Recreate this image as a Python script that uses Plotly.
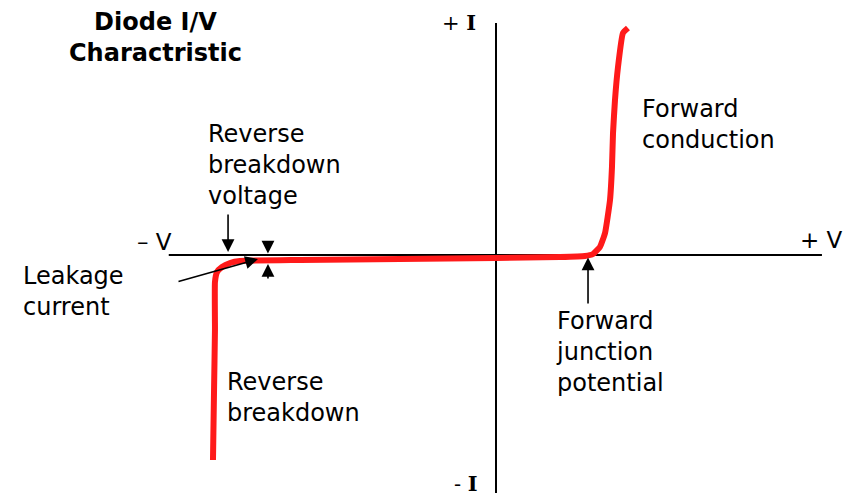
import plotly.graph_objects as go

# ---- data (V in volts, I in mA, schematic) ----
fwd_v = [0.0, 0.489, 0.680, 0.741, 0.794, 0.833, 0.871, 0.886, 0.894, 0.909, 0.932, 0.970, 1.008]
fwd_i = [-0.12, -0.08, -0.04, 0.04, 0.32, 0.88, 2.2, 3.52, 4.88, 6.2, 7.52, 8.88, 9.08]

rev_v = [0.0, -0.733, -1.497, -1.956, -2.032, -2.093, -2.131, -2.147, -2.147, -2.154, -2.162]
rev_i = [-0.12, -0.16, -0.20, -0.24, -0.32, -0.48, -0.68, -1.08, -3.0, -5.4, -8.2]

v_axis = [-2.5, 2.49]
i_axis = [-9.52, 9.28]

# arrows: (tip_v, tip_i, tail_v, tail_i)
arrows = [
    (-2.047, 0.12, -2.047, 1.68),    # reverse breakdown voltage
    (-1.818, -0.16, -2.437, -1.08),  # leakage current
    (-1.742, 0.06, -1.742, 0.56),    # small down arrow
    (-1.742, -0.36, -1.742, -1.0),   # small up arrow
    (0.703, -0.10, 0.703, -2.0),     # forward junction potential
]

labels = [
    # text, x px, y px (block centre), anchor, size, bold, family
    ("Diode I/V<br>Charactristic", 155, 38, "center", 24, True, "DejaVu Sans"),
    ("Forward<br>conduction", 640, 125, "left", 24, False, "DejaVu Sans"),
    ("Forward<br>junction<br>potential", 554, 352, "left", 24, False, "DejaVu Sans"),
    ("Reverse<br>breakdown<br>voltage", 206, 165, "left", 24, False, "DejaVu Sans"),
    ("Leakage<br>current", 21, 291, "left", 24, False, "DejaVu Sans"),
    ("Reverse<br>breakdown", 225, 397, "left", 24, False, "DejaVu Sans"),
    ("– V", 154, 242, "center", 23, False, "DejaVu Sans"),
    ("+ V", 821, 240, "center", 23, False, "DejaVu Sans"),
    ("+ <b>I</b>", 459, 22, "center", 21, False, "DejaVu Serif"),
    ("- <b>I</b>", 466, 483, "center", 21, False, "DejaVu Serif"),
]

# page body has an 8px default margin, so the figure is 8px smaller
OFF = 8
W, H = 865 - OFF, 498 - OFF
RED = "#ff1a1a"

fig = go.Figure()
fig.add_trace(go.Scatter(x=v_axis, y=[0, 0], mode="lines",
                         line=dict(color="black", width=2), hoverinfo="skip"))
fig.add_trace(go.Scatter(x=[0, 0], y=i_axis, mode="lines",
                         line=dict(color="black", width=2), hoverinfo="skip"))
fig.add_trace(go.Scatter(x=rev_v, y=rev_i, mode="lines",
                         line=dict(color=RED, width=6, shape="spline", smoothing=0.4)))
fig.add_trace(go.Scatter(x=fwd_v, y=fwd_i, mode="lines",
                         line=dict(color=RED, width=6, shape="spline", smoothing=0.4)))

anns = []
for tv, ti, av, ai in arrows:
    anns.append(dict(x=tv, y=ti, ax=av, ay=ai, xref="x", yref="y", axref="x", ayref="y",
                     text="", showarrow=True, arrowhead=2, arrowsize=1.6,
                     arrowwidth=1.6, arrowcolor="black"))
for txt, px, py, anc, size, bold, fam in labels:
    anns.append(dict(x=(px - OFF) / W, y=1 - (py - OFF) / H, xref="paper", yref="paper",
                     text=txt, showarrow=False, xanchor=anc, yanchor="middle", align=anc,
                     font=dict(family=fam, size=size, color="black",
                               weight="bold" if bold else "normal")))

# 130.9 px per volt, 25 px per mA; origin at page pixel (496, 255)
px_v, px_i = 130.9, 25.0
ox, oy = 496 - OFF, 255 - OFF
fig.update_layout(
    width=W, height=H, margin=dict(l=0, r=0, t=0, b=0),
    paper_bgcolor="white", plot_bgcolor="white", showlegend=False,
    xaxis=dict(range=[-ox / px_v, (W - ox) / px_v], visible=False, fixedrange=True),
    yaxis=dict(range=[-(H - oy) / px_i, oy / px_i], visible=False, fixedrange=True),
    annotations=anns,
)
fig.write_html("out.html")
